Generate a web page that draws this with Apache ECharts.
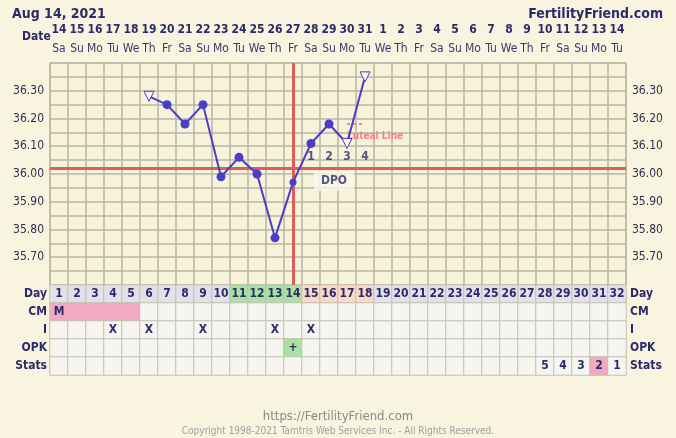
<!DOCTYPE html>
<html>
<head>
<meta charset="utf-8">
<script src="https://cdn.jsdelivr.net/npm/echarts@6/dist/echarts.min.js"></script>
<style>
  html, body { margin: 0; padding: 0; background: #f9f4df; }
  #main { width: 676px; height: 438px; }
</style>
</head>
<body>
<div id="main"></div>
<script>
// cycle days and calendar labels
const days = ['1','2','3','4','5','6','7','8','9','10','11','12','13','14','15','16',
  '17','18','19','20','21','22','23','24','25','26','27','28','29','30','31','32'];
const dateNums = ['14','15','16','17','18','19','20','21','22','23','24','25','26','27','28','29',
  '30','31','1','2','3','4','5','6','7','8','9','10','11','12','13','14'];
const weekdays = ['Sa','Su','Mo','Tu','We','Th','Fr','Sa','Su','Mo','Tu','We','Th','Fr','Sa','Su',
  'Mo','Tu','We','Th','Fr','Sa','Su','Mo','Tu','We','Th','Fr','Sa','Su','Mo','Tu'];

// temperatures (C)
const temps = [null, null, null, null, null, 36.28, 36.25, 36.18, 36.25, 35.99, 36.06, 36.00,
  35.77, 35.97, 36.11, 36.18, 36.11, 36.35, null, null, null, null, null, null, null, null,
  null, null, null, null, null, null];
const openDays = ['6', '17', '18'];
const smallDays = ['14'];
const coverline = 36.025;
const ovulationDay = '14';
const lutealLevel = 36.18;
const lutealDays = ['17', '18'];
const dpoDays = ['15', '16', '17', '18'];
const dpoNums = ['1', '2', '3', '4'];
const yTicks = [35.70, 35.80, 35.90, 36.00, 36.10, 36.20, 36.30];

// table rows
const rows = ['Day', 'CM', 'I', 'OPK', 'Stats'];
const fertileDays = ['11', '12', '13', '14'];
const periodDays = ['1', '2', '3', '4', '5'];
const cmRow = ['M','','','','','','','','','','','','','','','','','','','','','','','','','','','','','','',''];
const iRow = ['','','','X','','X','','','X','','','','X','','X','','','','','','','','','','','','','','','','',''];
const opkRow = ['','','','','','','','','','','','','','+','','','','','','','','','','','','','','','','','',''];
const statsRow = ['','','','','','','','','','','','','','','','','','','','','','','','','','','','5','4','3','2','1'];
const statsMarked = ['31'];

const navy = '#2b2b6b';
const lineCol = '#4a3dc8';
const font = "'DejaVu Sans Condensed', 'DejaVu Sans', sans-serif";

const lineData = temps.map(function (t, i) {
    if (t == null) return null;
    const d = days[i];
    if (openDays.indexOf(d) >= 0) {
        return { value: t, symbol: 'triangle', symbolRotate: 180, symbolSize: 10,
            itemStyle: { color: '#fbf8ea', borderColor: lineCol, borderWidth: 1 } };
    }
    if (smallDays.indexOf(d) >= 0) {
        return { value: t, symbolSize: 7 };
    }
    return t;
});

const cells = [];
function addRow(r, texts, colorFn) {
    days.forEach(function (d, i) {
        cells.push({ value: [i, r, 1], name: texts[i], itemStyle: { color: colorFn(d) } });
    });
}
addRow(0, days, function (d) {
    if (fertileDays.indexOf(d) >= 0) return '#a9e1a0';
    if (dpoDays.indexOf(d) >= 0) return '#fbd9c6';
    return '#e2e1ea';
});
addRow(1, cmRow, function (d) { return periodDays.indexOf(d) >= 0 ? '#f2aac2' : '#f6f5ef'; });
addRow(2, iRow, function () { return '#f6f5ef'; });
addRow(3, opkRow, function (d) { return opkRow[days.indexOf(d)] ? '#a9e1a0' : '#f6f5ef'; });
addRow(4, statsRow, function (d) { return statsMarked.indexOf(d) >= 0 ? '#f2aac2' : '#f6f5ef'; });

function tempLabel(v) {
    const hit = yTicks.some(function (t) { return Math.abs(t - v) < 1e-6; });
    return hit ? v.toFixed(2) : '';
}

var myChart = echarts.init(document.getElementById('main'));

var option = {
    backgroundColor: '#f9f4df',
    animation: false,
    textStyle: { fontFamily: font },
    title: [
        { text: 'Aug 14, 2021', left: 7, top: 2, textStyle: { color: navy, fontSize: 14, fontWeight: 'bold', fontFamily: font } },
        { text: 'FertilityFriend.com', right: 8, top: 2, textStyle: { color: navy, fontSize: 14, fontWeight: 'bold', fontFamily: font } },
        { text: 'Date', left: 17, top: 26, textStyle: { color: navy, fontSize: 12, fontWeight: 'bold', fontFamily: font } },
        { text: 'https://FertilityFriend.com', left: 'center', top: 405, textStyle: { color: '#8a8a8a', fontSize: 13, fontWeight: 'normal', fontFamily: font } },
        { text: 'Copyright 1998-2021 Tamtris Web Services Inc. - All Rights Reserved.', left: 'center', top: 421, textStyle: { color: '#a0a0a0', fontSize: 10, fontWeight: 'normal', fontFamily: font } }
    ],
    grid: [
        { left: 50, top: 63, width: 576, height: 222, show: true, backgroundColor: '#f7f2da', borderColor: '#bab4a3' },
        { left: 50, top: 285, width: 576, height: 90 }
    ],
    xAxis: [
        {
            type: 'category', gridIndex: 0, position: 'top', data: days,
            axisLine: { show: false }, axisTick: { show: false },
            splitLine: { show: true, interval: 0, lineStyle: { color: '#bab4a3', width: 1.5 } },
            axisLabel: {
                interval: 0, margin: 5,
                formatter: function (v, i) { return '{d|' + dateNums[i] + '}\n{w|' + weekdays[i] + '}'; },
                rich: {
                    d: { color: navy, fontWeight: 'bold', fontSize: 12, lineHeight: 18, fontFamily: font },
                    w: { color: '#3a3a6a', fontSize: 12, lineHeight: 19, fontFamily: font }
                }
            }
        },
        {
            type: 'category', gridIndex: 1, data: days, show: false
        }
    ],
    yAxis: [
        {
            type: 'value', gridIndex: 0, min: 35.6, max: 36.4, interval: 0.05,
            axisLine: { show: false }, axisTick: { show: false },
            splitLine: { lineStyle: { color: '#bab4a3', width: 1.5 } },
            axisLabel: { color: '#2e2e4e', fontSize: 12, margin: 6, formatter: tempLabel }
        },
        {
            type: 'value', gridIndex: 0, min: 35.6, max: 36.4, interval: 0.05, position: 'right',
            axisLine: { show: false }, axisTick: { show: false }, splitLine: { show: false },
            axisLabel: { color: '#2e2e4e', fontSize: 12, margin: 6, formatter: tempLabel }
        },
        {
            type: 'category', gridIndex: 1, data: rows, inverse: true,
            axisLine: { show: false }, axisTick: { show: false }, splitLine: { show: false },
            axisLabel: { color: navy, fontWeight: 'bold', fontSize: 12, margin: 3 }
        },
        {
            type: 'category', gridIndex: 1, data: rows, inverse: true, position: 'right',
            axisLine: { show: false }, axisTick: { show: false }, splitLine: { show: false },
            axisLabel: { color: navy, fontWeight: 'bold', fontSize: 12, margin: 4 }
        }
    ],
    series: [
        {
            type: 'line', xAxisIndex: 0, yAxisIndex: 0, data: lineData,
            connectNulls: false, symbol: 'circle', symbolSize: 9,
            lineStyle: { color: lineCol, width: 2 },
            itemStyle: { color: lineCol },
            z: 5,
            markLine: {
                silent: true, symbol: 'none',
                data: [
                    { yAxis: coverline, lineStyle: { color: '#dd5c5c', width: 3, type: 'solid' }, label: { show: false } },
                    { xAxis: ovulationDay, lineStyle: { color: '#dd5c5c', width: 3, type: 'solid' }, label: { show: false } },
                    [
                        { coord: [lutealDays[0], lutealLevel], lineStyle: { color: '#ff7f8c', width: 2, type: [3, 3] },
                          label: { show: true, position: 'insideStartBottom', distance: [0, 7], formatter: 'Luteal Line',
                                   color: '#ff7a88', fontSize: 10, fontWeight: 'bold', fontFamily: font } },
                        { coord: [lutealDays[1], lutealLevel] }
                    ]
                ]
            }
        },
        {
            type: 'scatter', xAxisIndex: 0, yAxisIndex: 0, symbolSize: 0, z: 6,
            data: dpoDays.map(function (d, i) { return [d, 36.062, dpoNums[i]]; }),
            label: { show: true, position: 'inside', color: navy, fontWeight: 'bold', fontSize: 12,
                     formatter: function (p) { return p.value[2]; } }
        },
        {
            type: 'scatter', xAxisIndex: 0, yAxisIndex: 0, symbolSize: 0, z: 4,
            data: [[dpoDays[1], 35.976, 'DPO']],
            label: { show: true, position: 'inside', offset: [5, 0], color: navy, fontWeight: 'bold', fontSize: 12,
                     backgroundColor: '#fbf8ea', padding: [4, 7],
                     formatter: function (p) { return p.value[2]; } }
        },
        {
            type: 'heatmap', xAxisIndex: 1, yAxisIndex: 2, data: cells,
            itemStyle: { borderColor: '#c3bfb2', borderWidth: 1 },
            label: { show: true, color: navy, fontWeight: 'bold', fontSize: 12,
                     formatter: function (p) { return p.name; } },
            emphasis: { disabled: true }
        }
    ]
};

option && myChart.setOption(option);
</script>
</body>
</html>
